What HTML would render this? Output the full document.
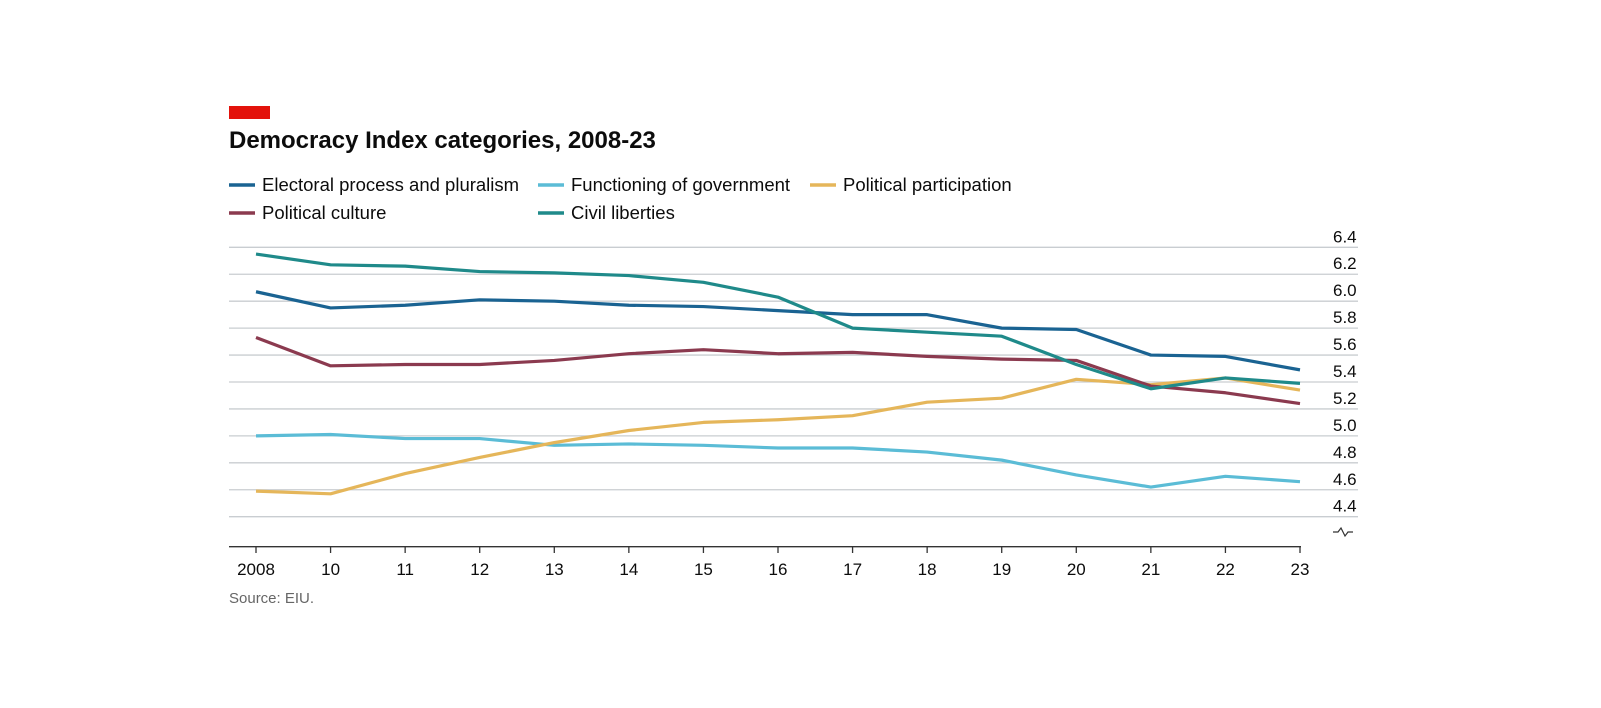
<!DOCTYPE html>
<html><head><meta charset="utf-8"><style>
body{margin:0;background:#fff;width:1601px;height:703px;overflow:hidden;font-family:"Liberation Sans",sans-serif;}
svg text{font-family:"Liberation Sans",sans-serif;}
</style></head><body>
<svg width="1601" height="703">
<rect x="229" y="106" width="41" height="13" fill="#e3120b"/>
<text x="229" y="148" font-size="24" font-weight="bold" fill="#0c0c0c">Democracy Index categories, 2008-23</text>
<g id="legend"></g>
<g id="grid"></g>
<g id="series"></g>
<g id="xaxis"></g>
<text x="229" y="603" font-size="15" fill="#666">Source: EIU.</text>
</svg>
<script>
const years=["2008","10","11","12","13","14","15","16","17","18","19","20","21","22","23"];
const yTicks=[4.4,4.6,4.8,5.0,5.2,5.4,5.6,5.8,6.0,6.2,6.4];
const electoral=[6.07,5.95,5.97,6.01,6.0,5.97,5.96,5.93,5.9,5.9,5.8,5.79,5.6,5.59,5.49];
const functioning=[5.0,5.01,4.98,4.98,4.93,4.94,4.93,4.91,4.91,4.88,4.82,4.71,4.62,4.7,4.66];
const participation=[4.59,4.57,4.72,4.84,4.95,5.04,5.1,5.12,5.15,5.25,5.28,5.42,5.38,5.43,5.34];
const culture=[5.73,5.52,5.53,5.53,5.56,5.61,5.64,5.61,5.62,5.59,5.57,5.56,5.37,5.32,5.24];
const civil=[6.35,6.27,6.26,6.22,6.21,6.19,6.14,6.03,5.8,5.77,5.74,5.53,5.35,5.43,5.39];
const names=["Electoral process and pluralism","Functioning of government","Political participation","Political culture","Civil liberties"];
const NS="http://www.w3.org/2000/svg";
function mk(t,a,p){const e=document.createElementNS(NS,t);for(const k in a)e.setAttribute(k,a[k]);p.appendChild(e);return e;}
const x=i=>256+i*(1300-256)/(years.length-1);
const y=v=>516.7-(v-4.4)/0.2*26.94;
const grid=document.getElementById('grid');
yTicks.forEach(v=>{
 const l=mk('line',{x1:229,x2:1358,y1:y(v),y2:y(v),stroke:'#c9cdd1','stroke-width':1.3},grid);
 
 
 const t=mk('text',{x:1333,y:y(v)-5,'font-size':17,fill:'#0c0c0c'},grid);
 t.textContent=v.toFixed(1);
 
 
});
const br=mk('path',{d:'M1333 532 l5 0 l3 -4 l4 8 l3 -4 l5 0',fill:'none',stroke:'#333','stroke-width':1.2},grid);


const xa=document.getElementById('xaxis');
const al=mk('line',{x1:229,x2:1301,y1:546.7,y2:546.7,stroke:'#333','stroke-width':1.3},xa);


years.forEach((yr,i)=>{
 const tk=mk('line',{x1:x(i),x2:x(i),y1:546.7,y2:553,stroke:'#333','stroke-width':1.3},xa);
 
 
 const t=mk('text',{x:x(i),y:575,'font-size':17,fill:'#0c0c0c','text-anchor':'middle'},xa);
 t.textContent=yr;
 
 
});
const data=[electoral,functioning,participation,culture,civil];
const colors=["#1a6392","#5bbcd6","#e5b65a","#8b3a4f","#1f8a8a"];
const order=[1,2,3,0,4];
const sg=document.getElementById('series');
order.forEach(k=>{
 const p=mk('polyline',{points:data[k].map((v,i)=>x(i)+','+y(v)).join(' '),fill:'none',stroke:colors[k],'stroke-width':3.2,'stroke-linejoin':'round'},sg);
 
 
});
const lg=document.getElementById('legend');
const lpos=[[229,185],[538,185],[810,185],[229,213],[538,213]];
names.forEach((n,k)=>{
 const g=mk('g',{},lg);
 
 
 mk('line',{x1:lpos[k][0],x2:lpos[k][0]+26,y1:lpos[k][1],y2:lpos[k][1],stroke:colors[k],'stroke-width':3.5},g);
 const t=mk('text',{x:lpos[k][0]+33,y:lpos[k][1]+6,'font-size':18.5,fill:'#0c0c0c'},g);
 t.textContent=n;
});
</script>
</body></html>
